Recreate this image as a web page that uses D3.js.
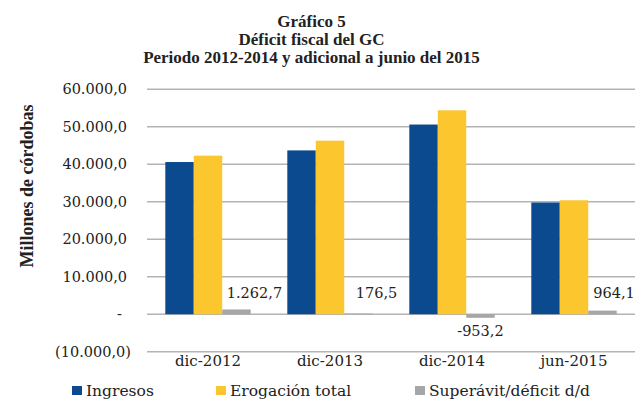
<!DOCTYPE html>
<html>
<head>
<meta charset="utf-8">
<script src="https://cdn.jsdelivr.net/npm/d3@7"></script>
<style>
  body { margin: 0; background: #fff; }
  svg text { fill: #222; }
  .serif { font-family: "DejaVu Serif", serif; }
  .bold { font-family: "Liberation Serif", serif; font-weight: bold; }
</style>
</head>
<body>
<div id="chart"></div>
<script>
const categories = ['dic-2012', 'dic-2013', 'dic-2014', 'jun-2015'];
const ingresos = [40600, 43700, 50600, 29800];
const erogacion = [42300, 46300, 54400, 30400];
const superavit = [1262.7, 176.5, -953.2, 964.1];
const seriesNames = ['Ingresos', 'Erogación total', 'Superávit/déficit d/d'];
const colors = ['#0b4a8e', '#fcc62f', '#a6a6a6'];
const yTicks = [-10000, 0, 10000, 20000, 30000, 40000, 50000, 60000];
const titleLines = ['Gráfico 5', 'Déficit fiscal del GC', 'Periodo 2012-2014 y adicional a junio del 2015'];

const width = 637;
const height = 400;
const margin = { top: 89.3, bottom: 48.3, left: 147, right: 2 };

const svg = d3.select('#chart')
  .append('svg')
  .attr('width', width)
  .attr('height', height);

const x = d3.scaleBand()
  .domain(categories)
  .range([margin.left, width - margin.right])
  .paddingInner(0.3)
  .paddingOuter(0.15);

const x1 = d3.scaleBand()
  .domain(d3.range(3))
  .range([0, x.bandwidth()]);

const y = d3.scaleLinear()
  .domain([-10000, 60000])
  .range([height - margin.bottom, margin.top]);

// number format like excel accounting: 60.000,0 / (10.000,0) / -
const fmt = d3.formatLocale({ decimal: ',', thousands: '.', grouping: [3], currency: ['', ''], minus: '-' }).format(',.1f');

// gridlines
svg.append('g')
  .selectAll('line')
  .data(yTicks)
  .join('line')
    .attr('x1', margin.left)
    .attr('x2', width - margin.right)
    .attr('y1', d => y(d))
    .attr('y2', d => y(d))
    .attr('stroke', '#b4b4b4')
    .attr('stroke-width', 1.5);

// y tick labels
svg.append('g')
  .selectAll('text')
  .data(yTicks)
  .join('text')
    .attr('class', 'serif')
    .attr('x', d => d < 0 ? 131 : d === 0 ? 122 : 127)
    .attr('y', d => y(d))
    .attr('dy', '0.35em')
    .attr('text-anchor', 'end')
    .attr('font-size', '14.5px')
    .text(d => d === 0 ? '-' : d < 0 ? '(' + fmt(-d) + ')' : fmt(d));

// bars
const rows = categories.map((c, i) => ({ cat: c, vals: [ingresos[i], erogacion[i], superavit[i]] }));

const groups = svg.append('g')
  .selectAll('g')
  .data(rows)
  .join('g')
    .attr('transform', d => `translate(${x(d.cat)},0)`);

groups.selectAll('rect')
  .data(d => d.vals.map((v, k) => ({ k, v })))
  .join('rect')
    .attr('x', d => x1(d.k))
    .attr('width', x1.bandwidth())
    .attr('y', d => y(Math.max(0, d.v)))
    .attr('height', d => Math.abs(y(d.v) - y(0)))
    .attr('fill', d => colors[d.k]);

// labels on the superavit bars
svg.append('g')
  .selectAll('text')
  .data(rows)
  .join('text')
    .attr('class', 'serif')
    .attr('x', d => {
      const cx = x(d.cat) + x1(2) + x1.bandwidth() / 2;
      return d.vals[2] < 0 ? cx : Math.min(cx + 18, 614);
    })
    .attr('y', d => d.vals[2] < 0 ? y(d.vals[2]) + 18 : y(0) - 16)
    .attr('text-anchor', 'middle')
    .attr('font-size', '14.5px')
    .text(d => fmt(d.vals[2]));

// category axis labels
svg.append('g')
  .selectAll('text')
  .data(categories)
  .join('text')
    .attr('class', 'serif')
    .attr('x', d => x(d) + x.bandwidth() / 2)
    .attr('y', 366)
    .attr('text-anchor', 'middle')
    .attr('font-size', '15px')
    .text(d => d);

// title
svg.append('g')
  .selectAll('text')
  .data(titleLines)
  .join('text')
    .attr('class', 'bold')
    .attr('x', 311.5)
    .attr('y', (d, i) => 27 + i * 18)
    .attr('text-anchor', 'middle')
    .attr('font-size', '17px')
    .text(d => d);

// y axis title
svg.append('text')
  .attr('class', 'bold')
  .attr('transform', 'translate(33,186) rotate(-90)')
  .attr('text-anchor', 'middle')
  .attr('font-size', '18px')
  .text('Millones de córdobas');

// legend
const legendX = [72, 216, 415];
const legend = svg.append('g')
  .selectAll('g')
  .data(seriesNames)
  .join('g')
    .attr('transform', (d, i) => `translate(${legendX[i]},386)`);

legend.append('rect')
  .attr('width', 10)
  .attr('height', 9)
  .attr('fill', (d, i) => colors[i]);

legend.append('text')
  .attr('class', 'serif')
  .attr('x', 14)
  .attr('y', 9.5)
  .attr('font-size', '15.5px')
  .text(d => d);
</script>
</body>
</html>
